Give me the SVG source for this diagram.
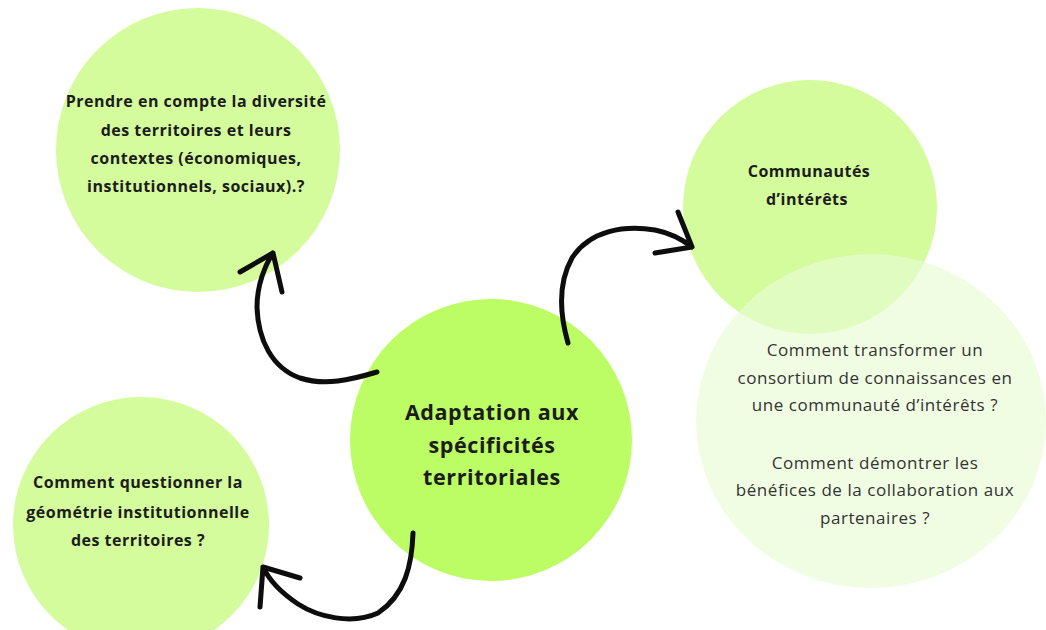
<svg xmlns="http://www.w3.org/2000/svg" width="1046" height="630" viewBox="0 0 1046 630">
<style>
.bold{font-family:"Open Sans","Noto Sans","Liberation Sans",sans-serif;font-weight:700;fill:#1c1c1c;text-anchor:middle}
.t15{font-size:16px;letter-spacing:0.5px}
.big{font-size:21.5px;letter-spacing:0.6px}
.reg{font-family:"Open Sans","Noto Sans","Liberation Sans",sans-serif;font-weight:400;fill:#333;text-anchor:middle;font-size:17px;letter-spacing:0.55px}
.light{fill:#d4fb9c}
.arrow{fill:none;stroke:#0d0d0d;stroke-width:5;stroke-linecap:round;stroke-linejoin:round}
</style>
<rect width="1046" height="630" fill="#ffffff"/>
<g id="node-diversite">
<circle class="light" cx="198" cy="150" r="142"/>
<text class="bold t15"><tspan x="196" y="107">Prendre en compte la diversité</tspan><tspan x="196" y="136">des territoires et leurs</tspan><tspan x="196" y="164">contextes (économiques,</tspan><tspan x="196" y="192">institutionnels, sociaux).?</tspan></text>
</g>
<g id="node-communautes">
<circle class="light" cx="810" cy="207" r="127"/>
<text class="bold t15"><tspan x="809" y="177">Communautés</tspan><tspan x="807" y="205">d’intérêts</tspan></text>
</g>
<g id="node-questions">
<ellipse cx="871" cy="421" rx="175" ry="167" fill="#e8fcd4" fill-opacity="0.65"/>
<text class="reg"><tspan x="875" y="356">Comment transformer un</tspan><tspan x="875" y="384">consortium de connaissances en</tspan><tspan x="875" y="411">une communauté d’intérêts ?</tspan><tspan x="875" y="469">Comment démontrer les</tspan><tspan x="875" y="496">bénéfices de la collaboration aux</tspan><tspan x="875" y="524">partenaires ?</tspan></text>
</g>
<g id="node-geometrie">
<circle class="light" cx="141" cy="525" r="128"/>
<text class="bold t15"><tspan x="138" y="488">Comment questionner la</tspan><tspan x="138" y="518">géométrie institutionnelle</tspan><tspan x="138" y="546">des territoires ?</tspan></text>
</g>
<g id="node-central">
<circle cx="491" cy="440" r="141" fill="#bcfc64"/>
<text class="bold big"><tspan x="492" y="420">Adaptation aux</tspan><tspan x="492" y="453">spécificités</tspan><tspan x="492" y="485">territoriales</tspan></text>
</g>
<g id="connectors">
<path class="arrow" d="M377,372 C350,380 325,386 300,378 C272,368 258,340 257,307 C257,285 265,265 273,253 M240,272 L273,253 L282,292"/>
<path class="arrow" d="M568,343 C560,315 557,285 572,258 C590,230 625,225 655,230 C670,233 683,240 692,247 M678,212 L692,247 L655,253"/>
<path class="arrow" d="M413,533 C412,565 405,595 378,613 C352,625 318,617 298,604 C283,594 270,582 263,567 M300,578 L263,567 L260,607"/>
</g>
</svg>
